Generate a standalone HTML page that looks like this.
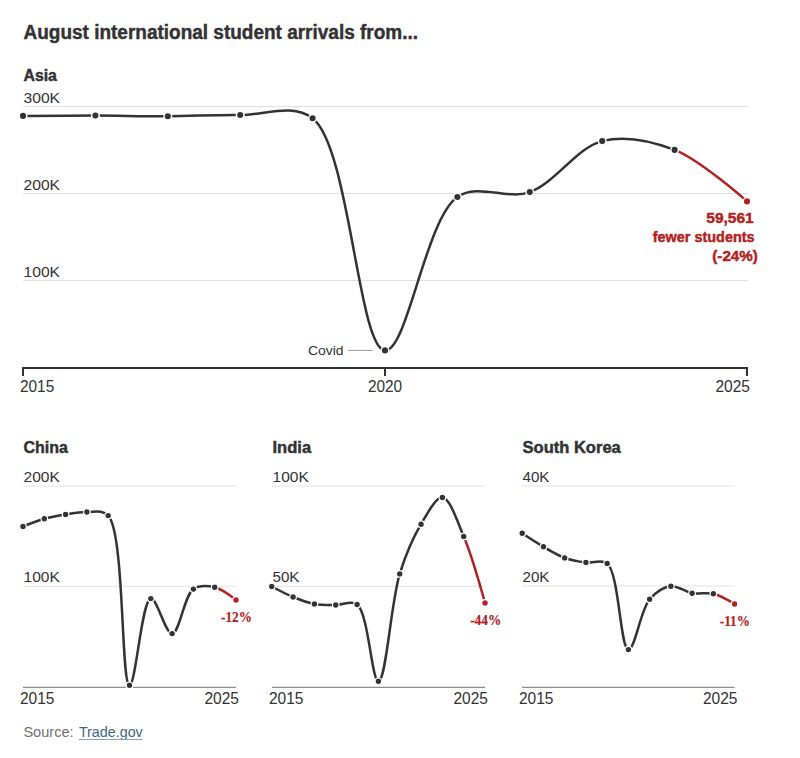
<!DOCTYPE html>
<html><head><meta charset="utf-8"><style>
html,body{margin:0;padding:0;background:#fff;width:800px;height:758px;overflow:hidden}
svg{display:block}
a{color:#326891}
</style></head><body>
<svg width="800" height="758" viewBox="0 0 800 758">
<text x="23.5" y="38.75" font-size="20" font-weight="bold" fill="#333333" text-anchor="start" font-family='"Liberation Sans", sans-serif' textLength="394.5" lengthAdjust="spacingAndGlyphs" stroke="#333333" stroke-width="0.45">August international student arrivals from...</text>
<text x="23.5" y="81.25" font-size="16" font-weight="bold" fill="#333333" text-anchor="start" font-family='"Liberation Sans", sans-serif' textLength="33.4" lengthAdjust="spacingAndGlyphs" stroke="#333333" stroke-width="0.45">Asia</text>
<line x1="23" y1="106.5" x2="748" y2="106.5" stroke="#dedede" stroke-width="1"/>
<text x="23.5" y="103" font-size="14.5" font-weight="normal" fill="#333333" text-anchor="start" font-family='"Liberation Sans", sans-serif' textLength="36.5" lengthAdjust="spacingAndGlyphs">300K</text>
<line x1="23" y1="193.5" x2="748" y2="193.5" stroke="#dedede" stroke-width="1"/>
<text x="23.5" y="190" font-size="14.5" font-weight="normal" fill="#333333" text-anchor="start" font-family='"Liberation Sans", sans-serif' textLength="36.5" lengthAdjust="spacingAndGlyphs">200K</text>
<line x1="23" y1="280.6" x2="748" y2="280.6" stroke="#dedede" stroke-width="1"/>
<text x="23.5" y="276.9" font-size="14.5" font-weight="normal" fill="#333333" text-anchor="start" font-family='"Liberation Sans", sans-serif' textLength="36.5" lengthAdjust="spacingAndGlyphs">100K</text>
<line x1="22" y1="368" x2="748" y2="368" stroke="#333333" stroke-width="2"/>
<line x1="23" y1="368" x2="23" y2="376" stroke="#333333" stroke-width="2"/>
<line x1="385" y1="368" x2="385" y2="376" stroke="#333333" stroke-width="2"/>
<line x1="747" y1="368" x2="747" y2="376" stroke="#333333" stroke-width="2"/>
<text x="20" y="392.1" font-size="16.3" font-weight="normal" fill="#333333" text-anchor="start" font-family='"Liberation Sans", sans-serif' textLength="34.2" lengthAdjust="spacingAndGlyphs">2015</text>
<text x="385" y="392.1" font-size="16.3" font-weight="normal" fill="#333333" text-anchor="middle" font-family='"Liberation Sans", sans-serif' textLength="34.2" lengthAdjust="spacingAndGlyphs">2020</text>
<text x="750" y="392.1" font-size="16.3" font-weight="normal" fill="#333333" text-anchor="end" font-family='"Liberation Sans", sans-serif' textLength="34.5" lengthAdjust="spacingAndGlyphs">2025</text>
<line x1="348.4" y1="350.4" x2="372.6" y2="350.4" stroke="#999" stroke-width="1"/>
<text x="307.9" y="354.7" font-size="13.5" font-weight="normal" fill="#333333" text-anchor="start" font-family='"Liberation Sans", sans-serif' textLength="35.7" lengthAdjust="spacingAndGlyphs">Covid</text>
<path d="M23,115.9C23,115.9,71.27,115.54,95.4,115.6C119.53,115.66,143.67,116.35,167.8,116.25C191.93,116.15,216.07,114.67,240.2,115C264.34,115.33,292.34,102.63,312.6,118.25C349.72,146.86,358.27,348.54,385,350.4C407.32,351.95,425.55,218.73,457.4,197C478.23,182.79,506.75,200.27,529.8,192.1C555.26,183.08,576.78,147.49,602.2,141.1C625.27,135.3,651.54,140.97,674.6,149.9" fill="none" stroke="#333333" stroke-width="2.5" stroke-linecap="round"/>
<path d="M674.6,149.9C700.05,159.76,747,201.4,747,201.4" fill="none" stroke="#b32222" stroke-width="2.5" stroke-linecap="round"/>
<circle cx="23" cy="115.9" r="3.8" fill="#333333" stroke="#fff" stroke-width="1.5"/>
<circle cx="95.4" cy="115.6" r="3.8" fill="#333333" stroke="#fff" stroke-width="1.5"/>
<circle cx="167.8" cy="116.25" r="3.8" fill="#333333" stroke="#fff" stroke-width="1.5"/>
<circle cx="240.2" cy="115" r="3.8" fill="#333333" stroke="#fff" stroke-width="1.5"/>
<circle cx="312.6" cy="118.25" r="3.8" fill="#333333" stroke="#fff" stroke-width="1.5"/>
<circle cx="385" cy="350.4" r="3.8" fill="#333333" stroke="#fff" stroke-width="1.5"/>
<circle cx="457.4" cy="197" r="3.8" fill="#333333" stroke="#fff" stroke-width="1.5"/>
<circle cx="529.8" cy="192.1" r="3.8" fill="#333333" stroke="#fff" stroke-width="1.5"/>
<circle cx="602.2" cy="141.1" r="3.8" fill="#333333" stroke="#fff" stroke-width="1.5"/>
<circle cx="674.6" cy="149.9" r="3.8" fill="#333333" stroke="#fff" stroke-width="1.5"/>
<circle cx="747" cy="201.4" r="3.8" fill="#b32222" stroke="#fff" stroke-width="1.5"/>
<text x="753.7" y="222.75" font-size="15" font-weight="bold" fill="#b32222" text-anchor="end" font-family='"Liberation Sans", sans-serif' textLength="47.4" lengthAdjust="spacingAndGlyphs" stroke="#b32222" stroke-width="0.45">59,561</text>
<text x="754.6" y="241.9" font-size="15" font-weight="bold" fill="#b32222" text-anchor="end" font-family='"Liberation Sans", sans-serif' textLength="101.9" lengthAdjust="spacingAndGlyphs" stroke="#b32222" stroke-width="0.45">fewer students</text>
<text x="757.8" y="260.5" font-size="15" font-weight="bold" fill="#b32222" text-anchor="end" font-family='"Liberation Sans", sans-serif' textLength="45.5" lengthAdjust="spacingAndGlyphs" stroke="#b32222" stroke-width="0.45">(-24%)</text>
<text x="23.5" y="452.6" font-size="16" font-weight="bold" fill="#333333" text-anchor="start" font-family='"Liberation Sans", sans-serif' textLength="44.4" lengthAdjust="spacingAndGlyphs" stroke="#333333" stroke-width="0.45">China</text>
<line x1="23" y1="486.1" x2="236" y2="486.1" stroke="#e3e3e3" stroke-width="1"/>
<text x="23.5" y="482.1" font-size="14.5" font-weight="normal" fill="#333333" text-anchor="start" font-family='"Liberation Sans", sans-serif' textLength="36.3" lengthAdjust="spacingAndGlyphs">200K</text>
<line x1="23" y1="586.3" x2="236" y2="586.3" stroke="#e3e3e3" stroke-width="1"/>
<text x="23.5" y="582.3" font-size="14.5" font-weight="normal" fill="#333333" text-anchor="start" font-family='"Liberation Sans", sans-serif' textLength="36.3" lengthAdjust="spacingAndGlyphs">100K</text>
<line x1="23" y1="687.3" x2="236" y2="687.3" stroke="#8f8f8f" stroke-width="1.3"/>
<text x="20" y="704" font-size="16.3" font-weight="normal" fill="#333333" text-anchor="start" font-family='"Liberation Sans", sans-serif' textLength="34.5" lengthAdjust="spacingAndGlyphs">2015</text>
<text x="239" y="704" font-size="16.3" font-weight="normal" fill="#333333" text-anchor="end" font-family='"Liberation Sans", sans-serif' textLength="34.5" lengthAdjust="spacingAndGlyphs">2025</text>
<path d="M23,526.5C23,526.5,37.12,520.81,44.3,518.8C51.33,516.83,58.48,515.64,65.6,514.5C72.68,513.37,79.81,511.82,86.9,512C94.01,512.18,102.3,509.44,108.2,515.6C124.8,532.92,120.82,684.8,129.5,685.3C135.77,685.66,141.68,600,150.8,598.6C156.98,597.65,165.3,633.94,172.1,633.6C179.56,633.23,184.08,595.54,193.4,589.1C199.54,584.86,207.84,585.72,214.7,587.3" fill="none" stroke="#333333" stroke-width="2.5" stroke-linecap="round"/>
<path d="M214.7,587.3C222.08,589,236,600,236,600" fill="none" stroke="#b32222" stroke-width="2.5" stroke-linecap="round"/>
<circle cx="23" cy="526.5" r="3.3" fill="#333333" stroke="#fff" stroke-width="1.2"/>
<circle cx="44.3" cy="518.8" r="3.3" fill="#333333" stroke="#fff" stroke-width="1.2"/>
<circle cx="65.6" cy="514.5" r="3.3" fill="#333333" stroke="#fff" stroke-width="1.2"/>
<circle cx="86.9" cy="512" r="3.3" fill="#333333" stroke="#fff" stroke-width="1.2"/>
<circle cx="108.2" cy="515.6" r="3.3" fill="#333333" stroke="#fff" stroke-width="1.2"/>
<circle cx="129.5" cy="685.3" r="3.3" fill="#333333" stroke="#fff" stroke-width="1.2"/>
<circle cx="150.8" cy="598.6" r="3.3" fill="#333333" stroke="#fff" stroke-width="1.2"/>
<circle cx="172.1" cy="633.6" r="3.3" fill="#333333" stroke="#fff" stroke-width="1.2"/>
<circle cx="193.4" cy="589.1" r="3.3" fill="#333333" stroke="#fff" stroke-width="1.2"/>
<circle cx="214.7" cy="587.3" r="3.3" fill="#333333" stroke="#fff" stroke-width="1.2"/>
<circle cx="236" cy="600" r="3.3" fill="#b32222" stroke="#fff" stroke-width="1.2"/>
<text x="252" y="621.75" font-size="14.3" font-weight="bold" fill="#b32222" text-anchor="end" font-family='"Liberation Serif", serif' textLength="31" lengthAdjust="spacingAndGlyphs" stroke="#b32222" stroke-width="0.2">-12%</text>
<text x="272.5" y="452.6" font-size="16" font-weight="bold" fill="#333333" text-anchor="start" font-family='"Liberation Sans", sans-serif' textLength="38.6" lengthAdjust="spacingAndGlyphs" stroke="#333333" stroke-width="0.45">India</text>
<line x1="272" y1="486.1" x2="485" y2="486.1" stroke="#e3e3e3" stroke-width="1"/>
<text x="272.5" y="482.1" font-size="14.5" font-weight="normal" fill="#333333" text-anchor="start" font-family='"Liberation Sans", sans-serif' textLength="36.3" lengthAdjust="spacingAndGlyphs">100K</text>
<line x1="272" y1="586.3" x2="485" y2="586.3" stroke="#e3e3e3" stroke-width="1"/>
<text x="272.5" y="582.3" font-size="14.5" font-weight="normal" fill="#333333" text-anchor="start" font-family='"Liberation Sans", sans-serif' textLength="27" lengthAdjust="spacingAndGlyphs">50K</text>
<line x1="272" y1="687.3" x2="485" y2="687.3" stroke="#8f8f8f" stroke-width="1.3"/>
<text x="269" y="704" font-size="16.3" font-weight="normal" fill="#333333" text-anchor="start" font-family='"Liberation Sans", sans-serif' textLength="34.5" lengthAdjust="spacingAndGlyphs">2015</text>
<text x="488" y="704" font-size="16.3" font-weight="normal" fill="#333333" text-anchor="end" font-family='"Liberation Sans", sans-serif' textLength="34.5" lengthAdjust="spacingAndGlyphs">2025</text>
<path d="M271.75,586.5C271.75,586.5,285.87,594.06,293.08,597C300.09,599.86,307.21,602.67,314.41,604C321.43,605.29,328.63,604.92,335.74,605C342.85,605.08,351.13,600.09,357.07,604.5C368.55,613.02,371.77,681.55,378.4,681.3C386.17,681.01,390.85,602.52,399.73,573.9C405.97,553.79,412.93,537.77,421.06,524.2C427.52,513.41,435.69,496.92,442.39,497.5C450.03,498.16,457.25,521.34,463.72,536.4" fill="none" stroke="#333333" stroke-width="2.5" stroke-linecap="round"/>
<path d="M463.72,536.4C471.84,555.3,485.05,603,485.05,603" fill="none" stroke="#b32222" stroke-width="2.5" stroke-linecap="round"/>
<circle cx="271.75" cy="586.5" r="3.3" fill="#333333" stroke="#fff" stroke-width="1.2"/>
<circle cx="293.08" cy="597" r="3.3" fill="#333333" stroke="#fff" stroke-width="1.2"/>
<circle cx="314.41" cy="604" r="3.3" fill="#333333" stroke="#fff" stroke-width="1.2"/>
<circle cx="335.74" cy="605" r="3.3" fill="#333333" stroke="#fff" stroke-width="1.2"/>
<circle cx="357.07" cy="604.5" r="3.3" fill="#333333" stroke="#fff" stroke-width="1.2"/>
<circle cx="378.4" cy="681.3" r="3.3" fill="#333333" stroke="#fff" stroke-width="1.2"/>
<circle cx="399.73" cy="573.9" r="3.3" fill="#333333" stroke="#fff" stroke-width="1.2"/>
<circle cx="421.06" cy="524.2" r="3.3" fill="#333333" stroke="#fff" stroke-width="1.2"/>
<circle cx="442.39" cy="497.5" r="3.3" fill="#333333" stroke="#fff" stroke-width="1.2"/>
<circle cx="463.72" cy="536.4" r="3.3" fill="#333333" stroke="#fff" stroke-width="1.2"/>
<circle cx="485.05" cy="603" r="3.3" fill="#b32222" stroke="#fff" stroke-width="1.2"/>
<text x="501.2" y="624.75" font-size="14.3" font-weight="bold" fill="#b32222" text-anchor="end" font-family='"Liberation Serif", serif' textLength="31" lengthAdjust="spacingAndGlyphs" stroke="#b32222" stroke-width="0.2">-44%</text>
<text x="522.5" y="452.6" font-size="16" font-weight="bold" fill="#333333" text-anchor="start" font-family='"Liberation Sans", sans-serif' textLength="98.3" lengthAdjust="spacingAndGlyphs" stroke="#333333" stroke-width="0.45">South Korea</text>
<line x1="522" y1="486" x2="734.5" y2="486" stroke="#e3e3e3" stroke-width="1"/>
<text x="522.5" y="482" font-size="14.5" font-weight="normal" fill="#333333" text-anchor="start" font-family='"Liberation Sans", sans-serif' textLength="27" lengthAdjust="spacingAndGlyphs">40K</text>
<line x1="522" y1="586" x2="734.5" y2="586" stroke="#e3e3e3" stroke-width="1"/>
<text x="522.5" y="582" font-size="14.5" font-weight="normal" fill="#333333" text-anchor="start" font-family='"Liberation Sans", sans-serif' textLength="27" lengthAdjust="spacingAndGlyphs">20K</text>
<line x1="522" y1="687.3" x2="734.5" y2="687.3" stroke="#8f8f8f" stroke-width="1.3"/>
<text x="519" y="704" font-size="16.3" font-weight="normal" fill="#333333" text-anchor="start" font-family='"Liberation Sans", sans-serif' textLength="34.5" lengthAdjust="spacingAndGlyphs">2015</text>
<text x="737.5" y="704" font-size="16.3" font-weight="normal" fill="#333333" text-anchor="end" font-family='"Liberation Sans", sans-serif' textLength="34.5" lengthAdjust="spacingAndGlyphs">2025</text>
<path d="M522.2,533.3C522.2,533.3,536.27,542.66,543.44,546.8C550.44,550.84,557.42,555.27,564.68,557.9C571.6,560.4,578.8,561.59,585.92,562.5C592.96,563.4,601.27,558.58,607.16,563.4C619.2,573.25,620.23,648.95,628.4,649.6C634.81,650.11,640.54,609.92,649.64,599.3C655.79,592.12,663.6,587.06,670.88,586.2C677.78,585.39,684.95,591.94,692.12,593.2C699.11,594.42,706.45,592.12,713.36,593.8" fill="none" stroke="#333333" stroke-width="2.5" stroke-linecap="round"/>
<path d="M713.36,593.8C720.63,595.56,734.6,604,734.6,604" fill="none" stroke="#b32222" stroke-width="2.5" stroke-linecap="round"/>
<circle cx="522.2" cy="533.3" r="3.3" fill="#333333" stroke="#fff" stroke-width="1.2"/>
<circle cx="543.44" cy="546.8" r="3.3" fill="#333333" stroke="#fff" stroke-width="1.2"/>
<circle cx="564.68" cy="557.9" r="3.3" fill="#333333" stroke="#fff" stroke-width="1.2"/>
<circle cx="585.92" cy="562.5" r="3.3" fill="#333333" stroke="#fff" stroke-width="1.2"/>
<circle cx="607.16" cy="563.4" r="3.3" fill="#333333" stroke="#fff" stroke-width="1.2"/>
<circle cx="628.4" cy="649.6" r="3.3" fill="#333333" stroke="#fff" stroke-width="1.2"/>
<circle cx="649.64" cy="599.3" r="3.3" fill="#333333" stroke="#fff" stroke-width="1.2"/>
<circle cx="670.88" cy="586.2" r="3.3" fill="#333333" stroke="#fff" stroke-width="1.2"/>
<circle cx="692.12" cy="593.2" r="3.3" fill="#333333" stroke="#fff" stroke-width="1.2"/>
<circle cx="713.36" cy="593.8" r="3.3" fill="#333333" stroke="#fff" stroke-width="1.2"/>
<circle cx="734.6" cy="604" r="3.3" fill="#b32222" stroke="#fff" stroke-width="1.2"/>
<text x="750" y="625.6" font-size="14.3" font-weight="bold" fill="#b32222" text-anchor="end" font-family='"Liberation Serif", serif' textLength="30.2" lengthAdjust="spacingAndGlyphs" stroke="#b32222" stroke-width="0.2">-11%</text>
<text x="23.4" y="736.9" font-size="14.5" font-weight="normal" fill="#727272" text-anchor="start" font-family='"Liberation Sans", sans-serif' textLength="50.2" lengthAdjust="spacingAndGlyphs">Source:</text>
<text x="78.9" y="736.9" font-size="14.5" font-weight="normal" fill="#3f6585" text-anchor="start" font-family='"Liberation Sans", sans-serif' textLength="63.85" lengthAdjust="spacingAndGlyphs">Trade.gov</text>
<line x1="78.9" y1="739.5" x2="142.75" y2="739.5" stroke="#8aa2b8" stroke-width="1"/>
</svg>
</body></html>
